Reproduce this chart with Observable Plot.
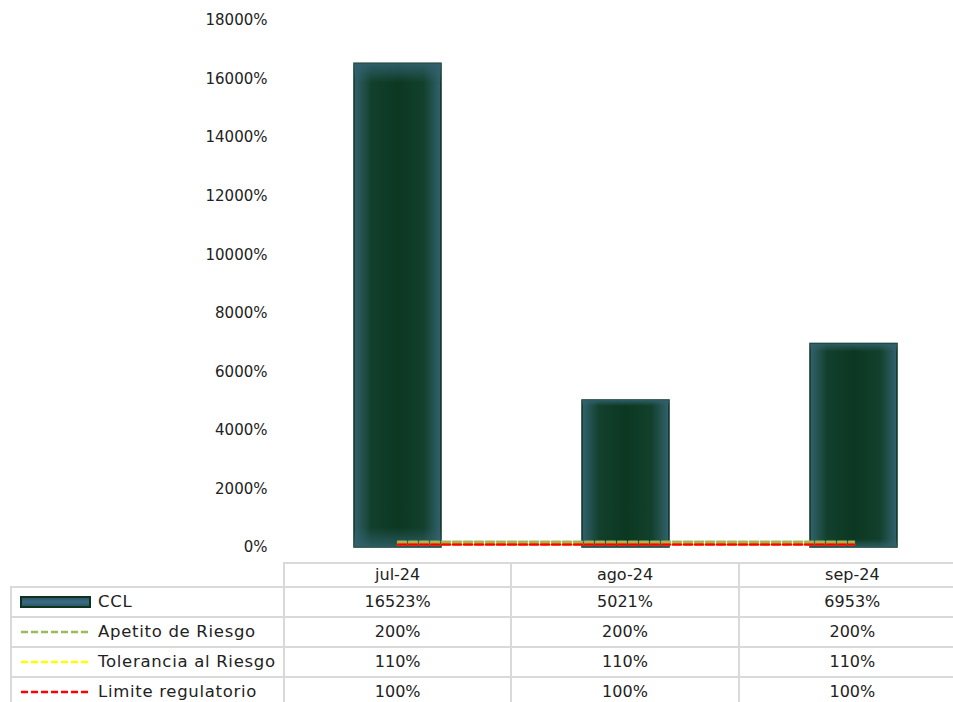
<!DOCTYPE html>
<html>
<head>
<meta charset="utf-8">
<script src="https://cdn.jsdelivr.net/npm/d3@7"></script>
<script src="https://cdn.jsdelivr.net/npm/@observablehq/plot@0.6"></script>
<style>
  html, body { margin: 0; padding: 0; background: #fff; overflow: hidden; }
  #wrap { position: relative; width: 967px; height: 702px; font-family: "DejaVu Sans", sans-serif; color: #222; }
  #chart { position: absolute; left: 0; top: 0; }
  table { position: absolute; left: 10px; top: 562px; border-collapse: collapse; table-layout: fixed; font-size: 16px; }
  td { border: 2px solid #d9d9d9; padding: 0; text-align: center; white-space: nowrap; line-height: 18px; }
  td.lab { text-align: left; padding-left: 8px; font-size: 16.5px; letter-spacing: 0.7px; }
  td.lab svg { vertical-align: middle; margin-right: 6px; position: relative; top: -1px; }
  tr.head td { height: 22px; }
  tr.row td { height: 28px; }
  tr.head td.empty { border-top: none; border-left: none; }
</style>
</head>
<body>
<div id="wrap"><div id="chart"></div></div>
<script>
const months = ["jul-24", "ago-24", "sep-24"];
const ccl = [16523, 5021, 6953];
const apetito = [200, 200, 200];
const tolerancia = [110, 110, 110];
const limite = [100, 100, 100];
const yTicks = [0, 2000, 4000, 6000, 8000, 10000, 12000, 14000, 16000, 18000];
const seriesNames = ["CCL", "Apetito de Riesgo", "Tolerancia al Riesgo", "Limite regulatorio"];
const seriesColors = ["#2e5a6a", "#9bbb59", "#ffff00", "#ff0000"];

const bars = months.map((m, i) => ({month: m, value: ccl[i]}));
const mkLine = arr => months.map((m, i) => ({month: m, value: arr[i]}));

const chart = Plot.plot({
  width: 967,
  height: 562,
  marginLeft: 283,
  marginRight: 0,
  marginTop: 20,
  marginBottom: 15,
  style: {fontFamily: "DejaVu Sans", fontSize: "15px", color: "#222", background: "transparent"},
  x: {domain: months, paddingInner: 0.62, paddingOuter: 0.31, axis: null},
  y: {domain: [0, 18000], ticks: yTicks, tickFormat: d => d + "%", tickSize: 0, tickPadding: 16, label: null},
  marks: [
    Plot.barY(bars, {x: "month", y: "value", fill: "url(#barGradH)", stroke: "#0b3320", strokeWidth: 1.5}),
    Plot.barY(bars, {x: "month", y: "value", fill: "url(#barGradV)"}),
    Plot.lineY(mkLine(apetito), {x: "month", y: "value", stroke: seriesColors[1], strokeWidth: 2.5, strokeDasharray: "8,3"}),
    Plot.lineY(mkLine(tolerancia), {x: "month", y: "value", stroke: seriesColors[2], strokeWidth: 2.5, strokeDasharray: "8,3"}),
    Plot.lineY(mkLine(limite), {x: "month", y: "value", stroke: seriesColors[3], strokeWidth: 2.5, strokeDasharray: "8,3"})
  ]
});

const defs = d3.select(chart).insert("defs", ":first-child");
const gH = defs.append("linearGradient").attr("id", "barGradH").attr("x1", 0).attr("x2", 1).attr("y1", 0).attr("y2", 0);
[[0, "#33626f"], [0.2, "#12402c"], [0.5, "#0c3822"], [0.8, "#12402c"], [1, "#33626f"]].forEach(([o, c]) =>
  gH.append("stop").attr("offset", o).attr("stop-color", c));
const gV = defs.append("linearGradient").attr("id", "barGradV").attr("x1", 0).attr("x2", 0).attr("y1", 0).attr("y2", 1);
[[0, "#33626f", 0.9], [0.04, "#33626f", 0], [0.96, "#33626f", 0], [1, "#33626f", 0.8]].forEach(([o, c, a]) =>
  gV.append("stop").attr("offset", o).attr("stop-color", c).attr("stop-opacity", a));

document.getElementById("chart").appendChild(chart);

// data table
const wrap = document.getElementById("wrap");
const table = document.createElement("table");
const cg = document.createElement("colgroup");
[273, 228, 228, 228].forEach(w => { const c = document.createElement("col"); c.style.width = w + "px"; cg.appendChild(c); });
table.appendChild(cg);
const head = document.createElement("tr");
head.className = "head";
head.innerHTML = `<td class="empty"></td>` + months.map(m => `<td>${m}</td>`).join("");
table.appendChild(head);

const rowsData = [ccl, apetito, tolerancia, limite];
rowsData.forEach((arr, r) => {
  const tr = document.createElement("tr");
  tr.className = "row";
  let icon;
  if (r === 0) {
    icon = `<svg width="72" height="12"><defs><linearGradient id="legG" x1="0" x2="0" y1="0" y2="1"><stop offset="0" stop-color="#2a5468"/><stop offset="0.5" stop-color="#3b6a80"/><stop offset="1" stop-color="#2a5468"/></linearGradient></defs><rect x="1" y="1" width="69" height="10" fill="url(#legG)" stroke="#0b3320" stroke-width="2"/></svg>`;
  } else {
    icon = `<svg width="72" height="12"><line x1="1" x2="71" y1="6" y2="6" stroke="${seriesColors[r]}" stroke-width="2.5" stroke-dasharray="7,3"/></svg>`;
  }
  tr.innerHTML = `<td class="lab">${icon}${seriesNames[r]}</td>` + arr.map(v => `<td>${v}%</td>`).join("");
  table.appendChild(tr);
});
wrap.appendChild(table);
</script>
</body>
</html>
